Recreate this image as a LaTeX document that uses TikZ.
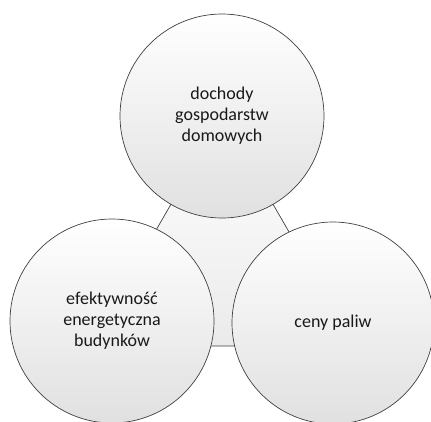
\documentclass[tikz,border=0pt]{standalone}
\usepackage{fontspec}
\setmainfont{Carlito}
\tikzset{
  ring/.style={circle, draw=black!75, line width=0.7pt, minimum size=204pt,
    top color=white, bottom color=black!12, align=center, text=black!90,
    font=\fontsize{18}{21}\selectfont, inner sep=0pt},
  hub/.style={draw=black!75, line width=0.7pt, top color=white, bottom color=black!8}
}
\begin{document}
\begin{tikzpicture}[x=1pt, y=-1pt]
  \useasboundingbox (0,0) rectangle (431,421);
  \coordinate (t) at (222,116);
  \coordinate (l) at (89,346);
  \coordinate (r) at (355,346);
  \draw[hub] (t) -- (l) -- (r) -- cycle;
  \draw
    (222,116) node[ring] (dochody){dochody\\gospodarstw\\domowych}
    (112,321) node[ring] (efekt){efektywność\\energetyczna\\budynków}
    (333,323) node[ring, minimum size=202pt] (ceny){ceny paliw};
\end{tikzpicture}
\end{document}
